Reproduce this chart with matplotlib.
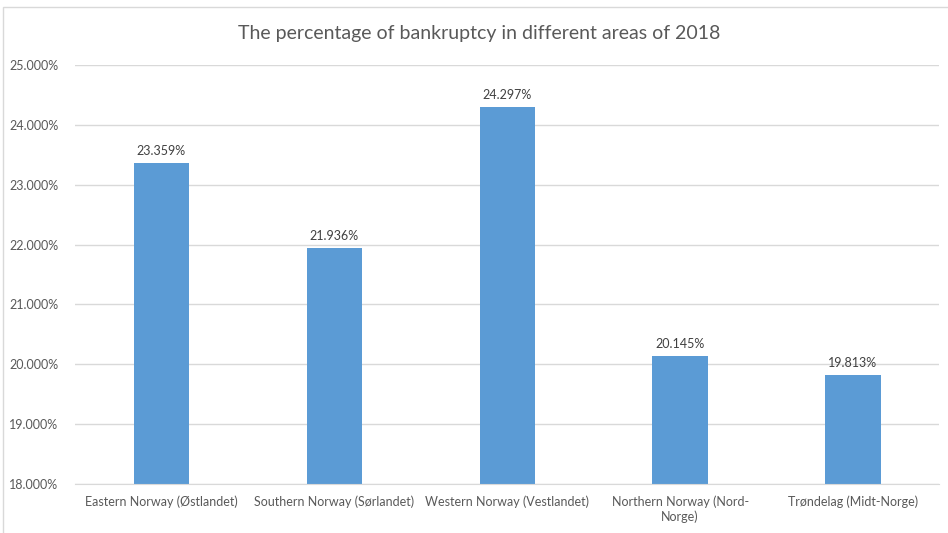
import matplotlib.pyplot as plt
from matplotlib.ticker import FuncFormatter
from matplotlib.patches import Rectangle

plt.rcParams['font.family'] = ['Lato', 'DejaVu Sans']

regions = ["Eastern Norway (Østlandet)", "Southern Norway (Sørlandet)",
           "Western Norway (Vestlandet)", "Northern Norway (Nord-\nNorge)",
           "Trøndelag (Midt-Norge)"]
percent = [23.359, 21.936, 24.297, 20.145, 19.813]
yticks = [18, 19, 20, 21, 22, 23, 24, 25]

textColor = "#595959"
barColor = "#5B9BD5"
gridColor = "#D9D9D9"

fig = plt.figure(figsize=(9.48, 5.33), dpi=100)
ax = fig.add_axes([0.079, 0.092, 0.912, 0.786])

x = range(len(regions))
bars = ax.bar(x, percent, width=0.32, color=barColor, zorder=3)
for xi, v in zip(x, percent):
    ax.text(xi, v + 0.1, "%.3f%%" % v, ha="center", va="bottom",
            fontsize=9, color="#404040")

ax.set_ylim(18, 25)
ax.set_xlim(-0.5, len(regions) - 0.5)
ax.set_yticks(yticks)
ax.yaxis.set_major_formatter(FuncFormatter(lambda v, p: "%.3f%%" % v))
ax.set_xticks(list(x))
ax.set_xticklabels(regions, fontsize=9, color=textColor, linespacing=1.3)
ax.tick_params(axis="y", labelsize=9, labelcolor=textColor, length=0, pad=12)
ax.tick_params(axis="x", length=0, pad=8)
ax.grid(axis="y", color=gridColor, linewidth=1, zorder=0)
for side in ["top", "right", "left"]:
    ax.spines[side].set_visible(False)
ax.spines["bottom"].set_color(gridColor)
ax.spines["bottom"].set_zorder(4)

fig.text(0.505, 0.938, "The percentage of bankruptcy in different areas of 2018",
         ha="center", va="center", fontsize=14, color=textColor)

# light frame around the chart area
fig.patches.append(Rectangle((0.003, -0.01), 1.05, 0.997, transform=fig.transFigure,
                             fill=False, edgecolor="#D9D9D9", linewidth=1))

fig.savefig("out.png", dpi=100)
